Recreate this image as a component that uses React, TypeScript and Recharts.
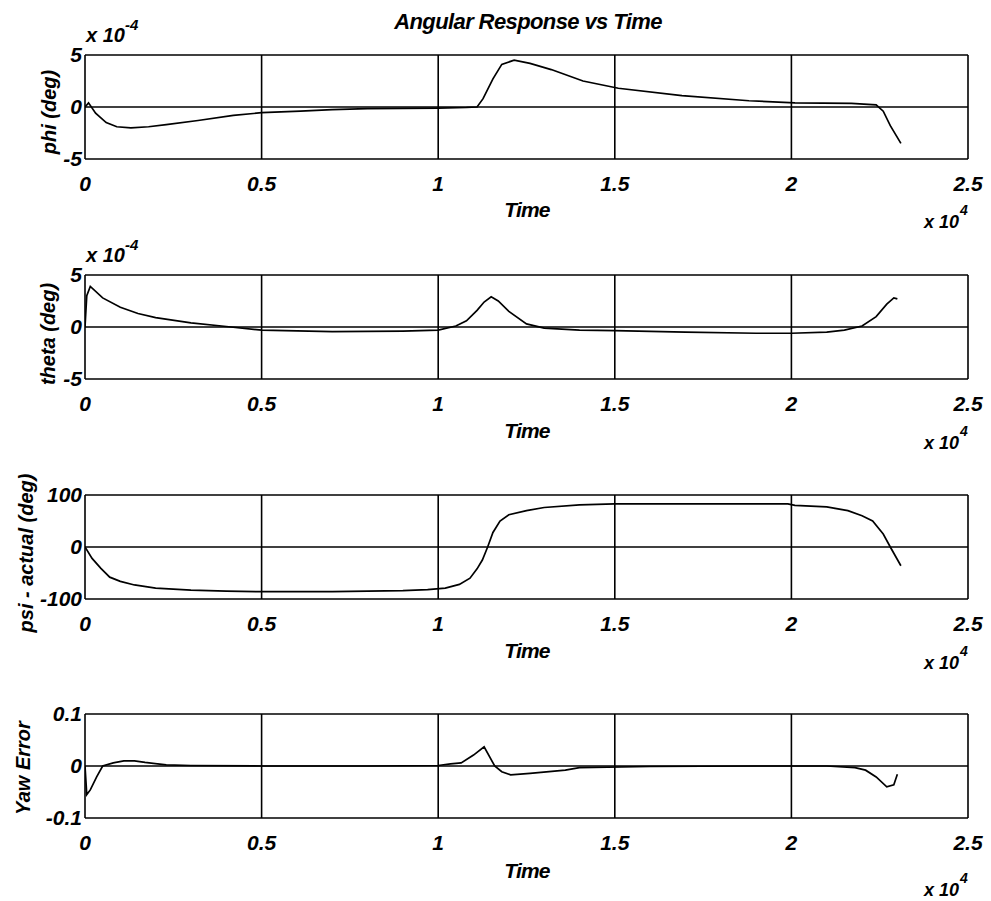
import React from "react";
import { LineChart, Line, XAxis, YAxis, CartesianGrid } from "recharts";

// Time in units of 1e4
const timeTicks = [0, 0.5, 1, 1.5, 2, 2.5];

// phi (deg), units of 1e-4
const phiTime = [0, 0.01, 0.03, 0.06, 0.09, 0.13, 0.18, 0.23, 0.32, 0.42, 0.5, 0.61, 0.7, 0.8, 1.0, 1.08, 1.11, 1.127, 1.155, 1.18, 1.215, 1.26, 1.32, 1.41, 1.51, 1.69, 1.88, 2.01, 2.17, 2.24, 2.26, 2.28, 2.31];
const phiValues = [0, 0.4, -0.6, -1.5, -1.9, -2.0, -1.9, -1.7, -1.3, -0.8, -0.55, -0.4, -0.25, -0.15, -0.1, -0.05, 0, 0.8, 2.7, 4.1, 4.5, 4.2, 3.6, 2.5, 1.8, 1.1, 0.6, 0.4, 0.35, 0.2, -0.4, -1.8, -3.5];
const phiTicks = [-5, 0, 5];

// theta (deg), units of 1e-4
const thetaTime = [0, 0.005, 0.015, 0.05, 0.1, 0.15, 0.2, 0.3, 0.4, 0.5, 0.7, 0.9, 1.0, 1.05, 1.08, 1.11, 1.13, 1.15, 1.17, 1.2, 1.25, 1.3, 1.4, 1.5, 1.7, 1.9, 2.0, 2.1, 2.15, 2.2, 2.24, 2.27, 2.29, 2.3];
const thetaValues = [0, 3.0, 3.9, 2.8, 1.9, 1.3, 0.9, 0.4, 0.05, -0.3, -0.45, -0.4, -0.3, 0.1, 0.6, 1.6, 2.4, 2.9, 2.5, 1.5, 0.3, -0.1, -0.3, -0.35, -0.5, -0.6, -0.6, -0.5, -0.3, 0.1, 1.0, 2.2, 2.8, 2.7];
const thetaTicks = [-5, 0, 5];

// psi - actual (deg)
const psiTime = [0, 0.02, 0.045, 0.07, 0.1, 0.14, 0.2, 0.3, 0.4, 0.5, 0.7, 0.9, 0.97, 1.02, 1.06, 1.09, 1.11, 1.125, 1.14, 1.155, 1.175, 1.2, 1.25, 1.3, 1.4, 1.5, 1.7, 1.9, 1.99, 2.01, 2.1, 2.16, 2.2, 2.23, 2.26, 2.28, 2.31];
const psiValues = [0, -22, -41, -58, -66, -73, -79, -83, -85, -86, -86, -84, -82, -79, -72, -60, -42, -25, 0, 28, 50, 62, 70, 76, 81, 83, 83, 83, 83, 80, 77, 70, 60, 50, 25, 0, -36];
const psiTicks = [-100, 0, 100];

// Yaw Error
const yawTime = [0, 0.005, 0.015, 0.033, 0.05, 0.08, 0.11, 0.14, 0.17, 0.23, 0.3, 0.5, 0.8, 1.0, 1.035, 1.065, 1.1, 1.13, 1.16, 1.18, 1.205, 1.26, 1.36, 1.4, 1.6, 1.9, 2.1, 2.18, 2.21, 2.24, 2.27, 2.29, 2.3];
const yawValues = [0, -0.055, -0.046, -0.021, 0, 0.006, 0.01, 0.01, 0.007, 0.002, 0.001, 0, 0, 0.001, 0.004, 0.006, 0.021, 0.037, 0, -0.011, -0.017, -0.014, -0.008, -0.003, -0.001, 0, 0, -0.003, -0.008, -0.021, -0.04, -0.036, -0.016];
const yawTicks = [-0.1, 0, 0.1];

const toRows = (ts: number[], vs: number[]) => ts.map((t, i) => ({ t, v: vs[i] }));

const FONT = '"Liberation Sans", Arial, Helvetica, sans-serif';
const tickStyle = { fill: "#000", fontSize: 21, fontStyle: "italic", fontWeight: 700, fontFamily: FONT };

const PLOT_H = 104;
const MARGIN_TOP = 20;

function Panel({ data, ticks, top }: { data: { t: number; v: number }[]; ticks: number[]; top: number }) {
  return (
    <div style={{ position: "absolute", left: 0, top: top - MARGIN_TOP }}>
      <LineChart width={991} height={MARGIN_TOP + PLOT_H + 40} data={data} margin={{ top: MARGIN_TOP, right: 23, bottom: 0, left: 0 }}>
        <CartesianGrid stroke="#000" strokeWidth={1.6} />
        <XAxis
          type="number"
          dataKey="t"
          domain={[0, 2.5]}
          ticks={timeTicks}
          interval={0}
          tickSize={0}
          tickMargin={17}
          axisLine={false}
          height={40}
          tick={tickStyle}
          allowDataOverflow
        />
        <YAxis
          type="number"
          dataKey="v"
          domain={[ticks[0], ticks[ticks.length - 1]]}
          ticks={ticks}
          interval={0}
          width={85}
          tickSize={0}
          tickMargin={3}
          axisLine={false}
          tick={tickStyle}
          allowDataOverflow
        />
        <Line dataKey="v" type="linear" stroke="#000" strokeWidth={1.7} dot={false} isAnimationActive={false} />
      </LineChart>
    </div>
  );
}

const panels = [
  { data: toRows(phiTime, phiValues), ticks: phiTicks, top: 55, label: "phi (deg)", labelX: 50, labelY: 112, timeY: 217, expY: 228, topExp: true },
  { data: toRows(thetaTime, thetaValues), ticks: thetaTicks, top: 275, label: "theta (deg)", labelX: 49, labelY: 334, timeY: 438, expY: 449, topExp: true },
  { data: toRows(psiTime, psiValues), ticks: psiTicks, top: 495, label: "psi - actual (deg)", labelX: 27, labelY: 553, timeY: 658, expY: 669, topExp: false },
  { data: toRows(yawTime, yawValues), ticks: yawTicks, top: 714, label: "Yaw Error", labelX: 24, labelY: 768, timeY: 878, expY: 896, topExp: false },
];

const textBase = { fill: "#000", fontStyle: "italic" as const, fontWeight: 700, fontFamily: FONT };

export default function App() {
  return (
    <div style={{ position: "absolute", left: 0, top: 0, width: 991, height: 901, background: "#fff", overflow: "hidden" }}>
      {panels.map((p, i) => (
        <Panel key={i} data={p.data} ticks={p.ticks} top={p.top} />
      ))}
      <svg width={991} height={901} style={{ position: "absolute", left: 0, top: 0, pointerEvents: "none" }}>
        <text x={528} y={29} textAnchor="middle" fontSize={22} letterSpacing={-0.6} {...textBase}>
          Angular Response vs Time
        </text>
        {panels.map((p, i) => (
          <g key={i}>
            <text
              x={p.labelX + 6}
              y={p.labelY}
              transform={`rotate(-90 ${p.labelX + 6} ${p.labelY})`}
              textAnchor="middle"
              fontSize={20}
              {...textBase}
            >
              {p.label}
            </text>
            <text x={527} y={p.timeY} textAnchor="middle" fontSize={21} letterSpacing={-0.8} {...textBase}>
              Time
            </text>
            <text x={959} y={p.expY} textAnchor="end" fontSize={18} {...textBase}>
              x 10
            </text>
            <text x={960} y={p.expY - 13} textAnchor="start" fontSize={14} {...textBase}>
              4
            </text>
            {p.topExp && (
              <text x={86} y={p.top - 13} fontSize={20} {...textBase}>
                x 10
                <tspan dy={-12} fontSize={15}>
                  -4
                </tspan>
              </text>
            )}
          </g>
        ))}
      </svg>
    </div>
  );
}
